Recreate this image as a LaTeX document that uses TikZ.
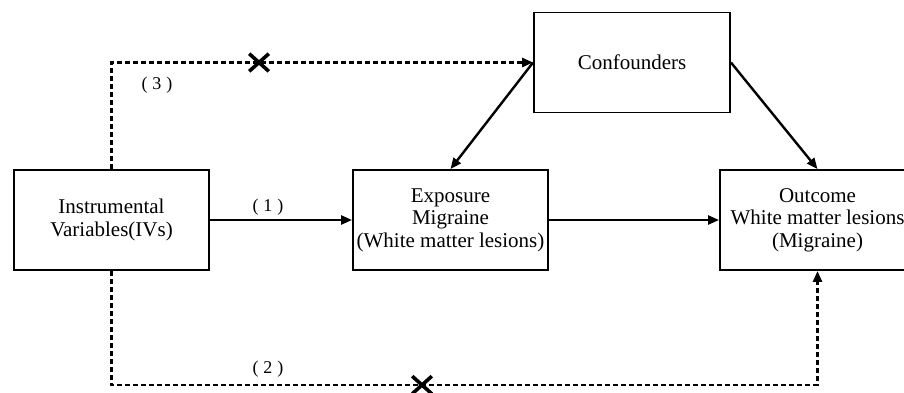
\documentclass[tikz,border=0pt]{standalone}
\usepackage{fontspec}
\setmainfont{Liberation Serif}
\usetikzlibrary{arrows.meta,shapes.misc}
\begin{document}
\begin{tikzpicture}[x=1pt,y=-1pt,
  box/.style={draw,line width=1.9pt,rectangle,minimum width=195pt,minimum height=100pt,inner sep=0pt,align=center,font=\fontsize{21}{22.5}\selectfont},
  solidarrow/.style={line width=2.4pt,-{Triangle[length=11pt,width=9pt]}},
  dasharrow/.style={line width=2.6pt,dash pattern=on 5pt off 3pt,-{Triangle[length=11pt,width=9pt]}},
  lab/.style={font=\fontsize{18}{20}\selectfont,inner sep=0pt},
  xmark/.style={draw,cross out,line width=3.6pt,minimum width=16pt,minimum height=14pt,inner sep=0pt}]
\useasboundingbox (0,0) rectangle (904,392);
\begin{scope}
\clip (0,0) rectangle (904,392);
\node[box] (iv) at (111.5,220) {Instrumental\\Variables(IVs)};
\node[box] (exp) at (450.5,220) {Exposure\\Migraine\\(White matter lesions)};
\node[box] (out) at (817.5,220) {Outcome\\White matter lesions\\(Migraine)};
\node[box,minimum width=196pt] (conf) at (632,62.5) {Confounders};
\end{scope}
\draw[solidarrow] (iv.east) -- (exp.west);
\draw[solidarrow] (exp.east) -- (out.west);
\draw[solidarrow] (conf.west) -- (exp.north);
\draw[solidarrow] (conf.east) -- (out.north);
\draw[dasharrow] (iv.north) |- (conf.west);
\coordinate (bl) at (111.5,385);
\draw[dasharrow] (iv.south) -- (bl) -| (out.south);
\node[xmark] (x1) at (259,62.5) {};
\node[xmark] (x2) at (422,385) {};
\node[lab] (l1) at (268,207) {(\;1\;)};
\node[lab] (l2) at (268,369) {(\;2\;)};
\node[lab] (l3) at (157,85) {(\;3\;)};
\end{tikzpicture}
\end{document}
